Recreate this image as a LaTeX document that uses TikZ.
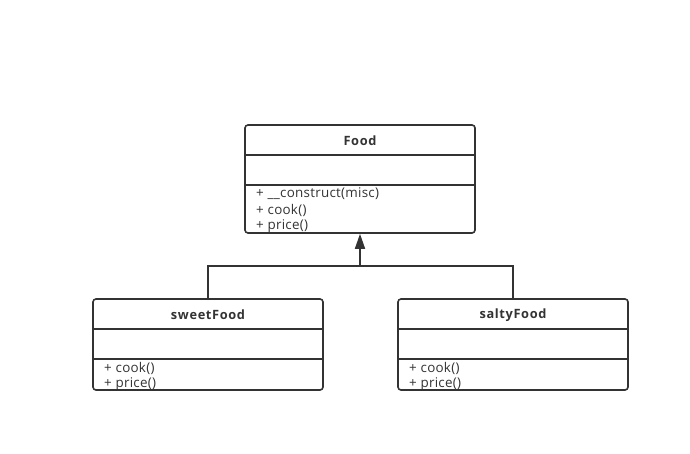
\documentclass[tikz,border=0pt]{standalone}
\usepackage{fontspec}
\setmainfont{Open Sans}
\newfontfamily\titlefont[LetterSpace=5]{Open Sans}
\newfontfamily\memberfont[LetterSpace=2]{Open Sans}
\usetikzlibrary{arrows.meta}
\definecolor{ink}{HTML}{333333}
\tikzset{
  x=1pt,y=-1pt,
  umlbox/.style={draw=ink,line width=1.6pt,rounded corners=3pt,rectangle,minimum width=230pt,inner sep=0pt},
  divider/.style={draw=ink,line width=1.6pt},
  title/.style={font=\titlefont\fontsize{12.8}{14}\selectfont\bfseries,text=ink,inner sep=0pt},
  member/.style={font=\memberfont\fontsize{13.4}{14}\selectfont,text=ink,anchor=west,inner sep=0pt},
  conn/.style={draw=ink,line width=1.6pt},
  inherit/.style={conn,-{Triangle[width=10pt,length=15pt]}}
}
\begin{document}
\begin{tikzpicture}
\useasboundingbox (0,0) rectangle (690,453);
% Food
\node[umlbox,minimum height=108pt] (food) at (360,179) {};
\node[title] (foodname) at (360,141) {Food};
\draw[divider] (food.west |- 0,155) -- (food.east |- 0,155);
\draw[divider] (food.west |- 0,185) -- (food.east |- 0,185);
\node[member] (f1) at (256,194) {+ \_\_construct(misc)};
\node[member] (f2) at (256,210) {+ cook()};
\node[member] (f3) at (256,226) {+ price()};
% sweetFood
\node[umlbox,minimum height=91pt] (sweet) at (208,344.5) {};
\node[title] (sweetname) at (208,315) {sweetFood};
\draw[divider] (sweet.west |- 0,329) -- (sweet.east |- 0,329);
\draw[divider] (sweet.west |- 0,359) -- (sweet.east |- 0,359);
\node[member] (s1) at (104,368) {+ cook()};
\node[member] (s2) at (104,384) {+ price()};
% saltyFood
\node[umlbox,minimum height=91pt] (salty) at (513,344.5) {};
\node[title] (saltyname) at (513,315) {saltyFood};
\draw[divider] (salty.west |- 0,329) -- (salty.east |- 0,329);
\draw[divider] (salty.west |- 0,359) -- (salty.east |- 0,359);
\node[member] (t1) at (409,368) {+ cook()};
\node[member] (t2) at (409,384) {+ price()};
% connectors
\coordinate (j) at (360,266);
\draw[conn] (sweet.north) |- (j) -| (salty.north);
\draw[inherit] (j) -- (food.south);
\end{tikzpicture}
\end{document}
